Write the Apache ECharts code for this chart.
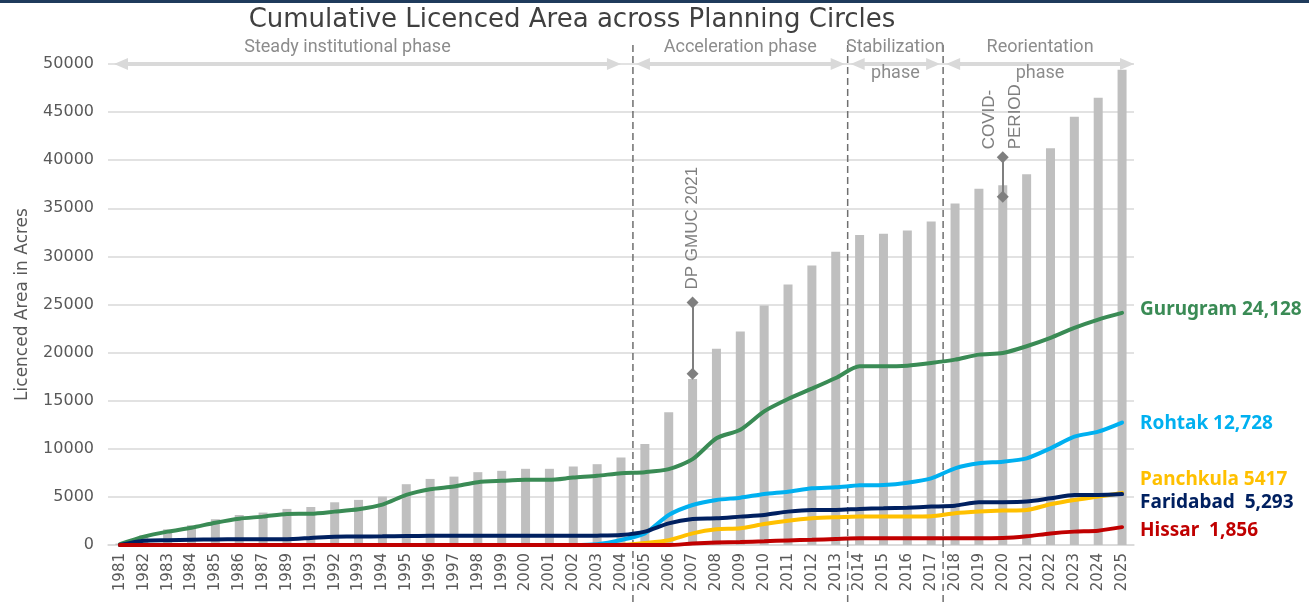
<!DOCTYPE html>
<html>
<head>
<meta charset="utf-8">
<script src="https://cdn.jsdelivr.net/npm/echarts@6/dist/echarts.min.js"></script>
<style>
  html, body { margin: 0; padding: 0; background: #fff; }
  #main { width: 1309px; height: 602px; }
</style>
</head>
<body>
<div id="main"></div>
<script>
// categories (1988 and 1990 are absent in the source)
const years = ['1981', '1982', '1983', '1984', '1985', '1986', '1987', '1989', '1991', '1992',
  '1993', '1994', '1995', '1996', '1997', '1998', '1999', '2000', '2001', '2002', '2003', '2004',
  '2005', '2006', '2007', '2008', '2009', '2010', '2011', '2012', '2013', '2014', '2015', '2016',
  '2017', '2018', '2019', '2020', '2021', '2022', '2023', '2024', '2025']

// total licenced area (grey bars)
const totalArea = [150, 1000, 1630, 2050, 2680, 3120, 3370, 3750, 3950, 4440,
  4690, 5030, 6320, 6870, 7110, 7570, 7710, 7920, 7920, 8160, 8400, 9100,
  10490, 13790, 17260, 20400, 22190, 24900, 27080, 29060, 30480, 32220, 32360, 32700,
  33640, 35510, 37040, 37390, 38540, 41250, 44510, 46490, 49410]

// planning circles
const gurugram = [100, 870, 1390, 1800, 2320, 2740, 2950, 3230, 3250, 3470,
  3720, 4200, 5210, 5800, 6080, 6530, 6670, 6770, 6770, 7010, 7190, 7470,
  7570, 7880, 8920, 11100, 11980, 13890, 15170, 16250, 17360, 18570, 18570, 18640,
  18920, 19270, 19790, 19960, 20660, 21530, 22570, 23430, 24128]
const rohtak = [0, 0, 0, 0, 0, 0, 0, 0, 0, 0,
  0, 0, 0, 0, 0, 0, 0, 0, 0, 0, 80, 520,
  1210, 3120, 4160, 4680, 4920, 5300, 5540, 5890, 6000, 6200, 6240, 6480,
  6930, 7970, 8490, 8660, 9010, 10050, 11260, 11780, 12728]
const panchkula = [0, 0, 0, 0, 0, 0, 0, 0, 0, 0,
  0, 0, 0, 0, 0, 0, 0, 0, 0, 0, 0, 0,
  200, 500, 1210, 1630, 1730, 2180, 2530, 2770, 2880, 2950, 2950, 2950,
  2980, 3300, 3470, 3580, 3640, 4230, 4680, 5030, 5417]
const faridabad = [0, 450, 500, 540, 580, 590, 600, 600, 730, 870,
  880, 900, 940, 950, 950, 950, 950, 950, 960, 960, 970, 1040,
  1390, 2250, 2700, 2770, 2950, 3120, 3470, 3640, 3640, 3750, 3810, 3880,
  3990, 4090, 4450, 4450, 4510, 4850, 5200, 5200, 5293]
const hissar = [0, 0, 0, 0, 0, 0, 0, 0, 0, 0,
  0, 0, 0, 0, 0, 0, 0, 0, 0, 0, 0, 0,
  0, 0, 150, 250, 300, 380, 480, 540, 620, 690, 690, 690,
  690, 690, 700, 720, 900, 1200, 1390, 1490, 1856]

// phases: [label lines, first year, last year]
const phases = [
  [['Steady institutional phase'], '1981', '2004'],
  [['Acceleration phase'], '2005', '2013'],
  [['Stabilization', 'phase'], '2014', '2017'],
  [['Reorientation', 'phase'], '2018', '2025'],
]

// event markers: year, upper / lower value, text lines
const events = [
  { year: '2007', top: 25200, bottom: 17800, text: ['DP GMUC 2021'], gap: 13 },
  { year: '2020', top: 40300, bottom: 36200, text: ['COVID-', 'PERIOD'], gap: 8 },
]

const chart = echarts.init(document.getElementById('main'))
const axisFont = 'DejaVu Sans'
const grey = '#7f7f7f'

function lineSeries(name, data, color, gap, dy, comma) {
  return {
    name,
    type: 'line',
    data,
    smooth: 0.25,
    symbol: 'none',
    z: 4,
    lineStyle: { width: 4, color, cap: 'round' },
    itemStyle: { color },
    endLabel: {
      show: true,
      distance: 18,
      offset: [0, dy],
      color,
      fontFamily: 'Noto Sans',
      fontWeight: 'bold',
      fontSize: 19,
      formatter: (p) => `${name}${gap}${comma ? p.value.toLocaleString('en-US') : p.value}`,
    },
  }
}

chart.setOption({
  animation: false,
  title: {
    text: 'Cumulative Licenced Area across Planning Circles',
    left: 567,
    textAlign: 'center',
    top: 2,
    textStyle: { fontFamily: axisFont, fontSize: 26, fontWeight: 'normal', color: '#404040' },
  },
  grid: { left: 108, right: 175, top: 64, bottom: 57 },
  xAxis: {
    type: 'category',
    data: years,
    axisLine: { lineStyle: { color: '#d9d9d9', width: 1.5 } },
    axisTick: { show: false },
    axisLabel: { rotate: 90, interval: 0, margin: 8, fontFamily: axisFont, fontSize: 15, color: '#595959' },
  },
  yAxis: {
    type: 'value',
    min: 0,
    max: 50000,
    interval: 5000,
    name: 'Licenced Area in Acres',
    nameLocation: 'middle',
    nameRotate: 90,
    nameGap: 77,
    nameTextStyle: { fontFamily: axisFont, fontSize: 17, color: '#595959' },
    axisLabel: { margin: 14, fontFamily: axisFont, fontSize: 16, color: '#595959', formatter: (v) => String(v) },
    splitLine: { lineStyle: { color: '#d9d9d9', width: 1.5 } },
  },
  series: [
    {
      name: 'Total',
      type: 'bar',
      data: totalArea,
      barWidth: 9,
      z: 2,
      itemStyle: { color: '#bfbfbf' },
      markLine: {
        silent: true,
        symbol: ['diamond', 'diamond'],
        symbolSize: 12,
        label: { show: false },
        lineStyle: { color: grey, width: 2, type: 'solid' },
        data: events.map((e) => [{ coord: [e.year, e.top] }, { coord: [e.year, e.bottom] }]),
      },
    },
    lineSeries('Gurugram', gurugram, '#3a8b55', ' ', -3, true),
    lineSeries('Rohtak', rohtak, '#00b0f0', ' ', 1, true),
    lineSeries('Panchkula', panchkula, '#ffc000', ' ', -13, false),
    lineSeries('Faridabad', faridabad, '#002060', '  ', 9, true),
    lineSeries('Hissar', hissar, '#c00000', '  ', 3, true),
  ],
})

// annotations placed through the chart's own scales
function drawAnnotations() {
  const px = (cat, val) => chart.convertToPixel({ xAxisIndex: 0, yAxisIndex: 0 }, [cat, val])
  const step = px(years[1], 0)[0] - px(years[0], 0)[0]
  const yTop = px(years[0], 50000)[1]
  const leftEdge = px(years[0], 0)[0] - step / 2
  const rightEdge = px(years[years.length - 1], 0)[0] + step / 2
  const graphics = [
    { type: 'rect', shape: { x: 0, y: 0, width: 1309, height: 3 }, style: { fill: '#1f3b5c' } },
  ]

  const arrowColor = '#d9d9d9'
  const arrow = (x1, x2) => {
    const y = yTop
    graphics.push({
      type: 'line', z: 5, shape: { x1: x1 + 10, y1: y, x2: x2 - 10, y2: y },
      style: { stroke: arrowColor, lineWidth: 4 },
    })
    graphics.push({
      type: 'polygon', z: 5, shape: { points: [[x1, y], [x1 + 14, y - 6], [x1 + 14, y + 6]] },
      style: { fill: arrowColor },
    })
    graphics.push({
      type: 'polygon', z: 5, shape: { points: [[x2, y], [x2 - 14, y - 6], [x2 - 14, y + 6]] },
      style: { fill: arrowColor },
    })
  }

  phases.forEach(([lines, from, to], i) => {
    const x1 = i === 0 ? leftEdge + 6 : px(from, 0)[0] - step / 2 + 3
    const x2 = i === phases.length - 1 ? rightEdge : px(to, 0)[0] + step / 2 - (i === 0 ? 12 : 3)
    arrow(x1, x2)
    // dashed separator after every phase but the last
    if (i < phases.length - 1) {
      const xb = px(to, 0)[0] + step / 2
      graphics.push({
        type: 'line', z: 3, shape: { x1: xb, y1: 45, x2: xb, y2: 602 },
        style: { stroke: '#6f6f6f', lineWidth: 1.5, lineDash: [7, 4] },
      })
    }
    const cx = i === 0 ? (x1 + x2) / 2 - 20 : (x1 + x2) / 2
    lines.forEach((t, k) => {
      graphics.push({
        type: 'text', z: 6, x: cx, y: 47 + k * 26,
        style: {
          text: t, fill: '#8c8c8c', font: '18px Roboto',
          textAlign: 'center', textVerticalAlign: 'middle',
        },
      })
    })
  })

  events.forEach((e) => {
    const [x, y] = px(e.year, e.top)
    const n = e.text.length
    e.text.forEach((t, k) => {
      graphics.push({
        type: 'text', z: 6, x: x + (k - (n - 1) / 2) * 26, y: y - e.gap, rotation: Math.PI / 2,
        style: { text: t, fill: grey, font: '17px "Liberation Sans"', textAlign: 'left', textVerticalAlign: 'middle' },
      })
    })
  })

  chart.setOption({ graphic: graphics })
}

drawAnnotations()
</script>
</body>
</html>
